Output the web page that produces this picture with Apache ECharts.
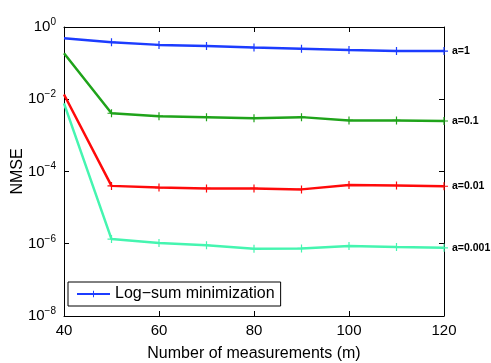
<!DOCTYPE html>
<html>
<head>
<meta charset="utf-8">
<script src="https://cdn.jsdelivr.net/npm/echarts@6/dist/echarts.min.js"></script>
<style>
  html, body { margin: 0; padding: 0; background: #fff; }
  #chart { width: 491px; height: 363px; }
</style>
</head>
<body>
<div id="chart"></div>
<script>
// measurements m
const measurements = [40, 50, 60, 70, 80, 90, 100, 110, 120];

// NMSE per value of a
const nmseA1 = [0.49, 0.38, 0.32, 0.30, 0.27, 0.25, 0.23, 0.217, 0.215];
const nmseA01 = [0.187, 0.0041, 0.0034, 0.0032, 0.0030, 0.0032, 0.0026, 0.0026, 0.0025];
const nmseA001 = [0.0135, 4.0e-5, 3.6e-5, 3.4e-5, 3.4e-5, 3.2e-5, 4.2e-5, 4.1e-5, 3.9e-5];
const nmseA0001 = [0.0077, 1.35e-6, 1.05e-6, 9.1e-7, 7.3e-7, 7.4e-7, 8.7e-7, 8.1e-7, 7.7e-7];

const curveLabels = ["a=1", "a=0.1", "a=0.01", "a=0.001"];
const legendName = "Log\u2212sum minimization";

const chart = echarts.init(document.getElementById("chart"));

// plus-shaped marker like MATLAB's '+'
const plus = "path://M-0.15,-1 L0.15,-1 L0.15,-0.15 L1,-0.15 L1,0.15 L0.15,0.15 L0.15,1 L-0.15,1 L-0.15,0.15 L-1,0.15 L-1,-0.15 L-0.15,-0.15 Z";

function makeSeries(name, values, color, label) {
    return {
        name: name,
        type: "line",
        // the first marker sits on the left axis and is not visible in the original
        data: measurements.map((m, i) => i === 0 ? { value: [m, values[i]], symbol: "none" } : [m, values[i]]),
        symbol: plus,
        symbolSize: 8,
        showAllSymbol: true,
        lineStyle: { color: color, width: 2.5 },
        itemStyle: { color: color },
        emphasis: { disabled: true },
        endLabel: {
            show: true,
            formatter: () => label,
            distance: 8,
            color: "#000",
            fontSize: 10.5,
            fontWeight: "bold",
            fontFamily: "Liberation Sans, Arial, sans-serif"
        },
        z: 3
    };
}

const tickStyle = {
    show: true,
    inside: true,
    length: 5,
    lineStyle: { color: "#000", width: 1 }
};

function expLabel(value) {
    const e = Math.round(Math.log10(value));
    return "10{sup|" + (e === 0 ? "0" : "\u2212" + Math.abs(e)) + "}";
}

const option = {
    animation: false,
    backgroundColor: "#fff",
    grid: { left: 64, right: 47, top: 27, bottom: 47, outerBoundsMode: "none" },
    legend: {
        data: [legendName],
        left: 68,
        top: 282,
        orient: "vertical",
        backgroundColor: "#fff",
        borderColor: "#000",
        borderWidth: 1,
        borderRadius: 0,
        padding: [4, 6, 4, 8],
        itemWidth: 33,
        itemHeight: 8,
        itemGap: 4,
        textStyle: {
            fontSize: 16,
            color: "#000",
            fontFamily: "Liberation Sans, Arial, sans-serif"
        }
    },
    xAxis: [
        {
            type: "value",
            min: 40,
            max: 120,
            interval: 20,
            position: "bottom",
            name: "Number of measurements (m)",
            nameLocation: "middle",
            nameGap: 30,
            nameTextStyle: { fontSize: 16, color: "#000", fontFamily: "Liberation Sans, Arial, sans-serif" },
            axisLine: { show: true, onZero: false, lineStyle: { color: "#000", width: 1 } },
            axisTick: tickStyle,
            axisLabel: { fontSize: 15, color: "#000", margin: 7, fontFamily: "Liberation Sans, Arial, sans-serif" },
            splitLine: { show: false }
        },
        {
            type: "value",
            min: 40,
            max: 120,
            interval: 20,
            position: "top",
            axisLine: { show: true, onZero: false, lineStyle: { color: "#000", width: 1 } },
            axisTick: tickStyle,
            axisLabel: { show: false },
            splitLine: { show: false }
        }
    ],
    yAxis: [
        {
            type: "log",
            logBase: 100,
            min: 1e-8,
            max: 1,
            position: "left",
            name: "NMSE",
            nameLocation: "middle",
            nameGap: 38,
            nameMoveOverlap: false,
            nameRotate: 90,
            nameTextStyle: { fontSize: 16, color: "#000", fontFamily: "Liberation Sans, Arial, sans-serif" },
            axisLine: { show: true, onZero: false, lineStyle: { color: "#000", width: 1 } },
            axisTick: tickStyle,
            axisLabel: {
                color: "#000",
                margin: 8,
                formatter: expLabel,
                fontSize: 15,
                fontFamily: "Liberation Sans, Arial, sans-serif",
                rich: {
                    sup: { fontSize: 10, verticalAlign: "top", padding: [0, 0, 10, 0], fontFamily: "Liberation Sans, Arial, sans-serif" }
                }
            },
            splitLine: { show: false },
            minorTick: { show: false }
        },
        {
            type: "log",
            logBase: 100,
            min: 1e-8,
            max: 1,
            position: "right",
            axisLine: { show: true, onZero: false, lineStyle: { color: "#000", width: 1 } },
            axisTick: tickStyle,
            axisLabel: { show: false },
            splitLine: { show: false }
        }
    ],
    series: [
        makeSeries(legendName, nmseA1, "#1c3cff", curveLabels[0]),
        makeSeries("a01", nmseA01, "#1fa31a", curveLabels[1]),
        makeSeries("a001", nmseA001, "#ff0a0a", curveLabels[2]),
        makeSeries("a0001", nmseA0001, "#45f5b0", curveLabels[3])
    ]
};

chart.setOption(option);
</script>
</body>
</html>
